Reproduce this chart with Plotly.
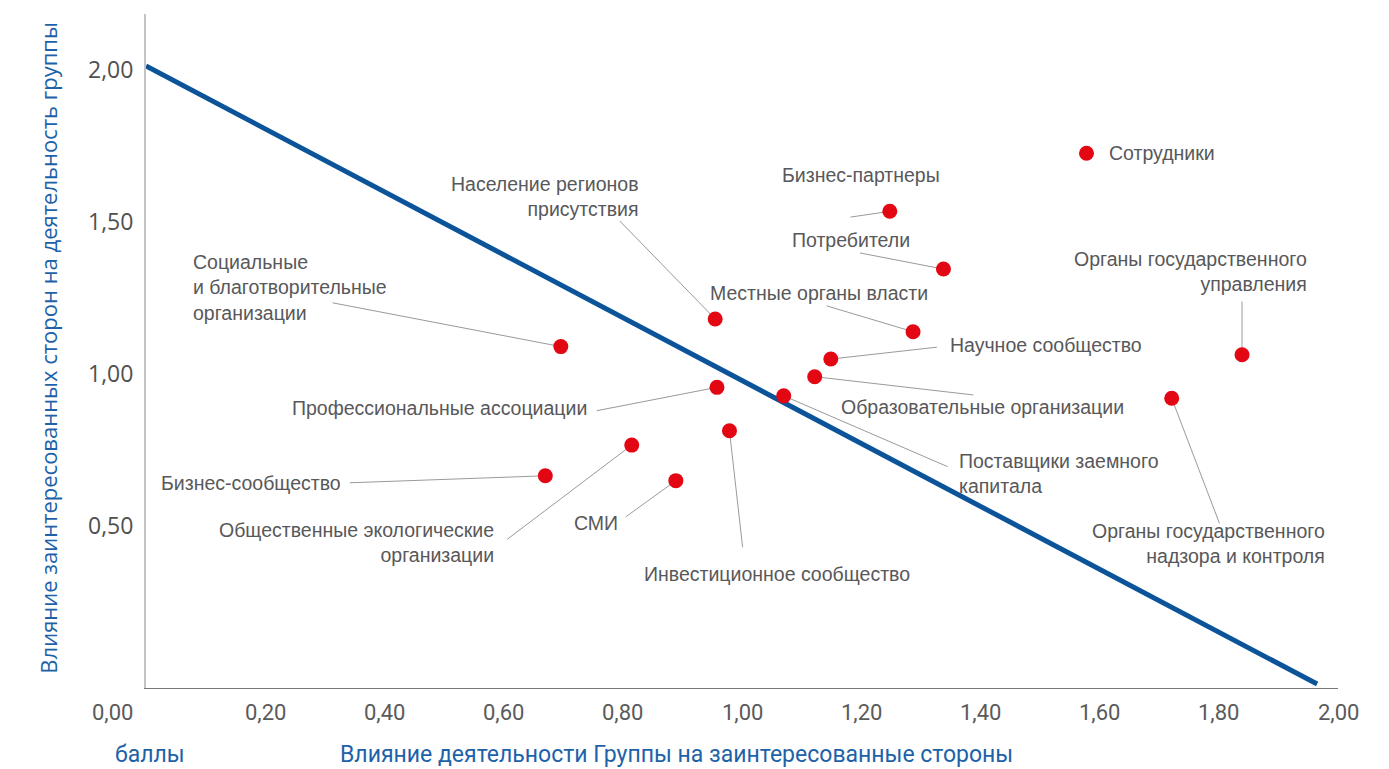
import plotly.graph_objects as go

# ---------------- data ----------------
stakeholders = [
    "Сотрудники",
    "Бизнес-партнеры",
    "Потребители",
    "Органы государственного\nуправления",
    "Органы государственного\nнадзора и контроля",
    "Местные органы власти",
    "Научное сообщество",
    "Образовательные организации",
    "Поставщики заемного\nкапитала",
    "Профессиональные ассоциации",
    "Население регионов\nприсутствия",
    "Социальные\nи благотворительные\nорганизации",
    "Инвестиционное сообщество",
    "Общественные экологические\nорганизации",
    "Бизнес-сообщество",
    "СМИ",
]
# Влияние деятельности Группы на заинтересованные стороны
impact_of_group = [1.578, 1.248, 1.338, 1.839, 1.721, 1.287, 1.149, 1.122,
                   1.070, 0.958, 0.955, 0.696, 0.979, 0.815, 0.670, 0.889]
# Влияние заинтересованных сторон на деятельность группы
influence_on_group = [1.723, 1.532, 1.342, 1.060, 0.917, 1.136, 1.046, 0.988,
                      0.925, 0.953, 1.178, 1.087, 0.810, 0.763, 0.662, 0.646]

# threshold line
threshold_x = [0.0, 1.965]
threshold_y = [2.01, -0.023]

x_tick_values = [0.0, 0.2, 0.4, 0.6, 0.8, 1.0, 1.2, 1.4, 1.6, 1.8, 2.0]
x_tick_labels = ["0,00", "0,20", "0,40", "0,60", "0,80", "1,00",
                 "1,20", "1,40", "1,60", "1,80", "2,00"]
y_tick_values = [0.5, 1.0, 1.5, 2.0]
y_tick_labels = ["0,50", "1,00", "1,50", "2,00"]

x_title = "Влияние деятельности Группы на заинтересованные стороны"
y_title = "Влияние заинтересованных сторон на деятельность группы"
unit_label = "баллы"

# ---------------- label placement (styling) ----------------
# (text_x, text_y, anchor, leader_tail_x, leader_tail_y) ; None tail = no leader
label_layout = [
    (1.613, 1.723, "left", None, None),
    (1.336, 1.651, "right", 1.182, 1.513),
    (1.285, 1.438, "right", 1.198, 1.395),
    (1.952, 1.333, "right", 1.839, 1.235),
    (1.981, 0.440, "right", 1.801, 0.506),
    (1.315, 1.263, "right", 1.142, 1.221),
    (1.346, 1.092, "left", 1.327, 1.085),
    (1.163, 0.887, "left", 1.388, 0.928),
    (1.361, 0.671, "left", 1.345, 0.692),
    (0.743, 0.886, "right", 0.756, 0.876),
    (0.830, 1.580, "right", 0.795, 1.500),
    (0.075, 1.282, "left", 0.313, 1.231),
    (1.058, 0.338, "center", 1.001, 0.427),
    (0.587, 0.443, "right", 0.606, 0.453),
    (0.330, 0.639, "right", 0.342, 0.639),
    (0.795, 0.508, "right", 0.805, 0.527),
]

RED = "#e30613"
BLUE = "#0b5499"
TITLE_BLUE = "#1d62a8"
GRAY_TEXT = "#58585a"
LABEL_FONT = "Liberation Sans, Arial, sans-serif"
TICK_FONT = "Roboto, sans-serif"

fig = go.Figure()

# leader lines
lx, ly = [], []
for (tx, ty, anc, sx, sy), px, py in zip(label_layout, impact_of_group, influence_on_group):
    if sx is None:
        continue
    lx += [sx, px, None]
    ly += [sy, py, None]
fig.add_trace(go.Scatter(x=lx, y=ly, mode="lines",
                         line=dict(color="#9a9a9a", width=1),
                         hoverinfo="skip", showlegend=False))

# threshold line
fig.add_trace(go.Scatter(x=threshold_x, y=threshold_y, mode="lines",
                         line=dict(color=BLUE, width=5),
                         hoverinfo="skip", showlegend=False))

# points
fig.add_trace(go.Scatter(x=impact_of_group, y=influence_on_group, mode="markers",
                         marker=dict(color=RED, size=15, line=dict(width=0)),
                         text=[s.replace("\n", " ") for s in stakeholders],
                         hoverinfo="text", showlegend=False))

annotations = []
for name, (tx, ty, anc, sx, sy) in zip(stakeholders, label_layout):
    annotations.append(dict(
        x=tx, y=ty, xref="x", yref="y", text=name.replace("\n", "<br>"),
        showarrow=False, xanchor=anc, yanchor="middle", align=anc,
        font=dict(family=LABEL_FONT, size=19.5, color=GRAY_TEXT)))

# x tick labels
for v, t in zip(x_tick_values, x_tick_labels):
    annotations.append(dict(
        x=v, y=0, xref="x", yref="paper", text=t, showarrow=False,
        xanchor="center", yanchor="middle", yshift=-24,
        xshift=-34 if v == 0 else 0,
        font=dict(family=TICK_FONT, size=22, color="#5a5a5a")))

# y tick labels
for v, t in zip(y_tick_values, y_tick_labels):
    annotations.append(dict(
        x=0, y=v, xref="paper", yref="y", text=t, showarrow=False,
        xanchor="right", yanchor="middle", xshift=-11,
        font=dict(family="Open Sans, sans-serif", size=23, color="#505050")))

# axis titles
annotations.append(dict(
    x=-0.0822, y=0.505, xref="paper", yref="paper", text=y_title,
    textangle=-90, showarrow=False, xanchor="center", yanchor="middle",
    font=dict(family="Open Sans, sans-serif", size=22, color=TITLE_BLUE)))
annotations.append(dict(
    x=0.445, y=0, xref="paper", yref="paper", text=x_title,
    showarrow=False, xanchor="center", yanchor="middle", yshift=-66,
    font=dict(family=TICK_FONT, size=23, color=TITLE_BLUE)))
annotations.append(dict(
    x=0.0034, y=0, xref="paper", yref="paper", text=unit_label,
    showarrow=False, xanchor="center", yanchor="middle", yshift=-66,
    font=dict(family=TICK_FONT, size=23, color=TITLE_BLUE)))

fig.update_layout(
    width=1381, height=761,
    margin=dict(l=138, r=51, t=6, b=81),
    paper_bgcolor="white", plot_bgcolor="white",
    showlegend=False,
    annotations=annotations,
    xaxis=dict(range=[0, 2], showgrid=False, zeroline=False,
               showline=True, linecolor="#777777", linewidth=1,
               showticklabels=False, ticks=""),
    yaxis=dict(range=[-0.036, 2.181], showgrid=False, zeroline=False,
               showline=True, linecolor="#c4c4c4", linewidth=2,
               showticklabels=False, ticks=""),
)

fig.write_html("out.html", config={"displayModeBar": False})
